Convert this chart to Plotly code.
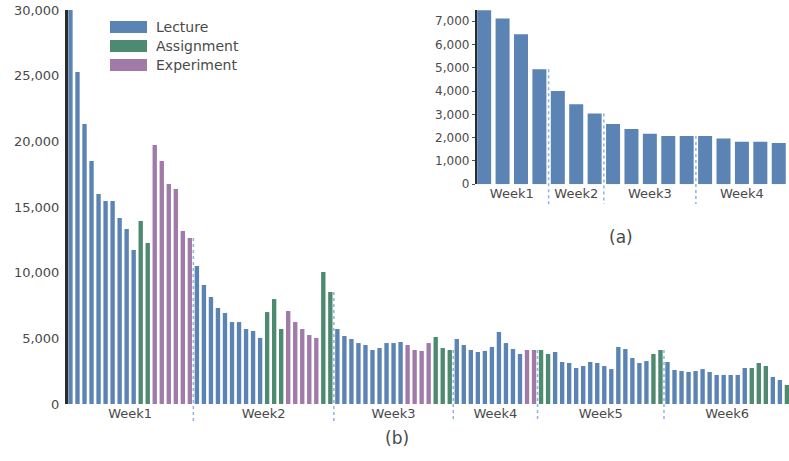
import plotly.graph_objects as go

# ---------------- data: (b) per-item views over six weeks ----------------
week_labels_b = ["Week1", "Week2", "Week3", "Week4", "Week5", "Week6"]
week_sizes_b = [18, 20, 17, 12, 18, 18]

views_b = [
    # Week1
    30000, 25280, 21320, 18500, 15990, 15460, 15460, 14160, 13320, 11730,
    13930, 12260, 19720, 18500, 16750, 16370, 13170, 12640,
    # Week2
    10510, 9060, 8150, 7310, 6930, 6240, 6240, 5710, 5560, 5030,
    7000, 7990, 5710, 7080, 6240, 5710, 5250, 5030, 10050, 8530,
    # Week3
    5710, 5180, 4950, 4640, 4490, 4110, 4260, 4640, 4640, 4720,
    4490, 4110, 4040, 4640, 5100, 4260, 4110,
    # Week4
    4950, 4490, 4110, 3960, 4040, 4340, 5480, 4640, 4190, 3810, 4110, 4110,
    # Week5
    4110, 3810, 3960, 3200, 3120, 2740, 2890, 3200, 3120, 2890,
    2660, 4340, 4190, 3500, 3120, 3270, 3810, 4110,
    # Week6
    3200, 2590, 2510, 2440, 2510, 2660, 2440, 2210, 2210, 2210,
    2210, 2740, 2740, 3120, 2890, 2060, 1830, 1450,
]

kinds_b = (
    ["Lecture"] * 10 + ["Assignment"] * 2 + ["Experiment"] * 6
    + ["Lecture"] * 10 + ["Assignment"] * 3 + ["Experiment"] * 5 + ["Assignment"] * 2
    + ["Lecture"] * 10 + ["Experiment"] * 4 + ["Assignment"] * 3
    + ["Lecture"] * 10 + ["Experiment"] * 2
    + ["Assignment"] * 2 + ["Lecture"] * 14 + ["Assignment"] * 2
    + ["Lecture"] * 12 + ["Assignment"] * 3 + ["Lecture"] * 2 + ["Assignment"] * 1
)

# ---------------- data: (a) lecture views, first four weeks ----------------
week_labels_a = ["Week1", "Week2", "Week3", "Week4"]
week_sizes_a = [4, 3, 5, 5]
views_a = [7470, 7110, 6440, 4940, 4000, 3430, 3030, 2580, 2370,
           2170, 2070, 2070, 2070, 1960, 1820, 1820, 1770]

y_ticks_b = [0, 5000, 10000, 15000, 20000, 25000, 30000]
y_ticks_a = [0, 1000, 2000, 3000, 4000, 5000, 6000, 7000]

# ---------------- styling ----------------
colors = {"Lecture": "#5b83b3", "Assignment": "#4d8a6f", "Experiment": "#a07baa"}
FONT = "DejaVu Sans"
TEXT = "#4a4a4a"
DIVIDER = "#8fb2de"

W, H = 789, 461
ML, MR, MT, MB = 68, 0, 10, 57
plot_w = W - ML - MR
plot_h = H - MT - MB

B_MAX = 30000
A_MAX = 7480
A_DOM_X = [0.567, 0.996]
A_DOM_Y = [0.558, 1.0]


def px_x(px):
    return (px - ML) / plot_w


def px_y(py):
    return (H - MB - py) / plot_h


def week_bounds(sizes):
    ends, starts, s = [], [], 0
    for n in sizes:
        starts.append(s)
        s += n
        ends.append(s - 1)
    return starts, ends


fig = go.Figure()

# main chart bars
fig.add_trace(go.Bar(
    x=list(range(len(views_b))), y=views_b, width=0.62,
    marker=dict(color=[colors[k] for k in kinds_b], line=dict(width=0)),
    showlegend=False, hoverinfo="y",
))

# inset bars
fig.add_trace(go.Bar(
    x=list(range(len(views_a))), y=views_a, width=0.76,
    marker=dict(color=colors["Lecture"], line=dict(width=0)),
    xaxis="x2", yaxis="y2", showlegend=False, hoverinfo="y",
))

shapes = []
annotations = []

# week ticks + dotted week separators for (b)
starts_b, ends_b = week_bounds(week_sizes_b)
centers_b = [(s + e) / 2 for s, e in zip(starts_b, ends_b)]
for e in ends_b[:-1]:
    shapes.append(dict(
        type="line", xref="x", yref="paper",
        x0=e + 0.5, x1=e + 0.5,
        y0=views_b[e] / B_MAX, y1=px_y(422),
        line=dict(color=DIVIDER, width=1.5, dash="dot"), layer="above",
    ))

# week ticks + dotted week separators for (a)
starts_a, ends_a = week_bounds(week_sizes_a)
centers_a = [(s + e) / 2 for s, e in zip(starts_a, ends_a)]
a_h = A_DOM_Y[1] - A_DOM_Y[0]
for e in ends_a[:-1]:
    shapes.append(dict(
        type="line", xref="x2", yref="paper",
        x0=e + 0.5, x1=e + 0.5,
        y0=A_DOM_Y[0] + views_a[e] / A_MAX * a_h, y1=px_y(204),
        line=dict(color=DIVIDER, width=1.5, dash="dot"), layer="above",
    ))

# legend: wide colour swatches with labels
legend_rows = [("Lecture", 27), ("Assignment", 46), ("Experiment", 65)]
for name, cy in legend_rows:
    shapes.append(dict(
        type="rect", xref="paper", yref="paper",
        x0=px_x(110), x1=px_x(147), y0=px_y(cy + 6), y1=px_y(cy - 6),
        fillcolor=colors[name], line=dict(width=0),
    ))
    annotations.append(dict(
        xref="paper", yref="paper", x=px_x(154), y=px_y(cy),
        text=name, showarrow=False, xanchor="left", yanchor="middle",
        font=dict(family=FONT, size=14, color=TEXT),
    ))

# panel captions
annotations.append(dict(
    xref="paper", yref="paper", x=px_x(397), y=px_y(438), text="(b)",
    showarrow=False, xanchor="center", yanchor="middle",
    font=dict(family=FONT, size=17, color=TEXT),
))
annotations.append(dict(
    xref="paper", yref="paper", x=px_x(621), y=px_y(237), text="(a)",
    showarrow=False, xanchor="center", yanchor="middle",
    font=dict(family=FONT, size=17, color=TEXT),
))

tick_font = dict(family=FONT, size=13, color=TEXT)

fig.update_layout(
    width=W, height=H,
    margin=dict(l=ML, r=MR, t=MT, b=MB, pad=0),
    paper_bgcolor="white", plot_bgcolor="rgba(0,0,0,0)",
    barmode="overlay",
    shapes=shapes, annotations=annotations,
    xaxis=dict(
        domain=[0, 1], range=[-0.35, len(views_b) - 0.7],
        showgrid=False, zeroline=False, showline=False,
        tickmode="array", tickvals=centers_b, ticktext=week_labels_b,
        ticks="", tickfont=tick_font,
    ),
    yaxis=dict(
        domain=[0, 1], range=[0, B_MAX],
        showgrid=False, zeroline=False,
        showline=True, linecolor="#2b2b2b", linewidth=3,
        tickmode="array", tickvals=y_ticks_b, tickformat=",",
        ticks="outside", ticklen=3, tickcolor="rgba(0,0,0,0)",
        tickfont=tick_font,
    ),
    xaxis2=dict(
        domain=A_DOM_X, anchor="y2", range=[-0.4, len(views_a) - 0.6],
        showgrid=False, zeroline=False, showline=False,
        tickmode="array", tickvals=centers_a, ticktext=week_labels_a,
        ticks="", tickfont=tick_font,
    ),
    yaxis2=dict(
        domain=A_DOM_Y, anchor="x2", range=[0, A_MAX],
        showgrid=False, zeroline=False,
        showline=True, linecolor="#2b2b2b", linewidth=2,
        tickmode="array", tickvals=y_ticks_a, tickformat=",",
        ticks="outside", ticklen=3, tickcolor="#555555", tickwidth=1,
        tickfont=dict(family=FONT, size=12, color=TEXT),
    ),
)

fig.write_html("out.html")
